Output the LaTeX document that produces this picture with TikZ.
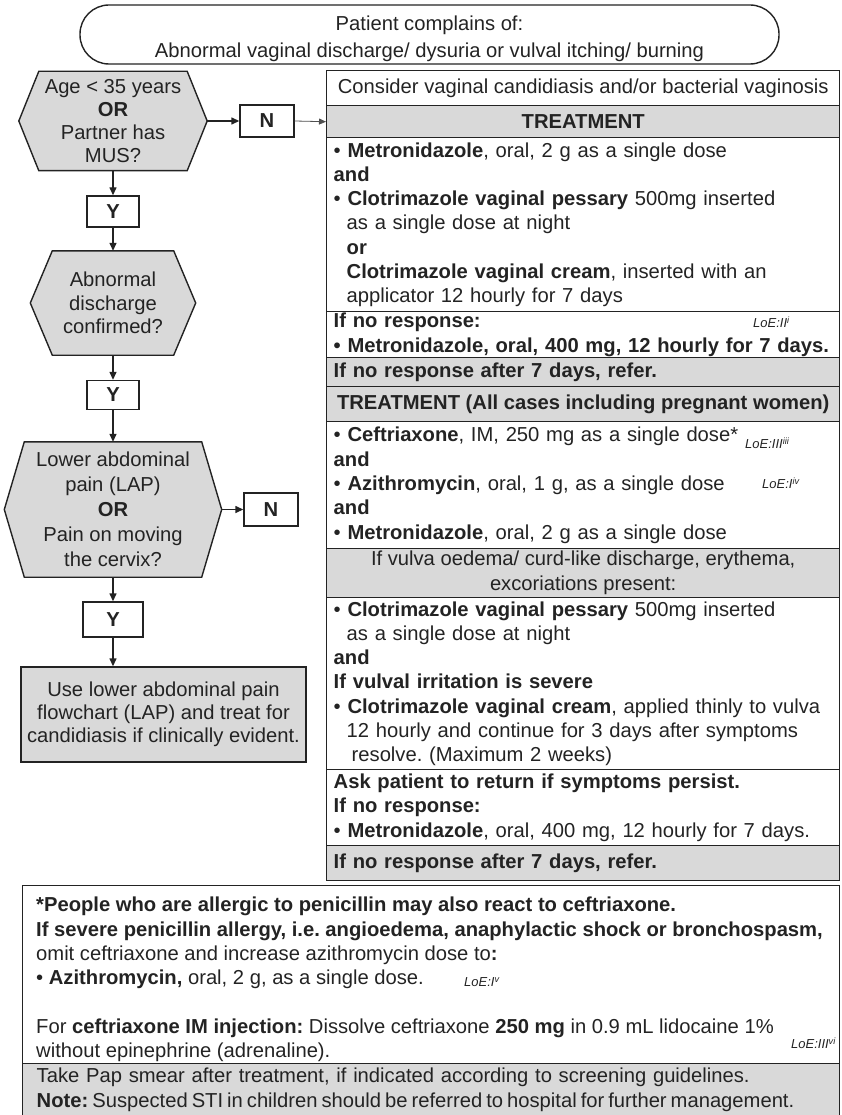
\documentclass[tikz,border=0pt]{standalone}
\usepackage{fontspec}
\setmainfont{Liberation Sans}
\usetikzlibrary{arrows.meta,backgrounds}
\definecolor{ink}{RGB}{35,35,35}
\definecolor{panelgrey}{RGB}{217,217,217}
\frenchspacing
% hexagonal decision outline drawn around a rectangular node: #1 node name, #2 corner inset
\newcommand\drawhex[2]{%
  \draw[frame,fill=panelgrey] ([xshift=#2pt]#1.north west) -- ([xshift=-#2pt]#1.north east)
    -- (#1.east) -- ([xshift=-#2pt]#1.south east) -- ([xshift=#2pt]#1.south west)
    -- (#1.west) -- cycle;}
\tikzset{
  txt/.style={font=\fontsize{20.2}{24.3}\selectfont, text=ink},
  frame/.style={draw=ink, line width=1.4pt},
  rowbox/.style={txt, frame, rectangle, anchor=north west, minimum width=513pt, inner xsep=0pt, inner ysep=0pt},
  leftrow/.style={rowbox, text width=499pt, inner xsep=7pt, align=left},
  shaded/.style={fill=panelgrey},
  hexnode/.style={txt, rectangle, inner sep=0pt, align=center, font=\fontsize{20.2}{23.3}\selectfont},
  answer/.style={txt, frame, rectangle, inner sep=0pt, font=\fontsize{20.2}{24}\selectfont\bfseries},
  flow/.style={draw=ink, line width=1.4pt, -{Triangle[length=8pt,width=7pt]}},
  thinflow/.style={draw=ink!80, line width=0.8pt, -{Triangle[length=7pt,width=6pt]}},
  loe/.style={font=\fontsize{13}{15}\selectfont\itshape, text=ink, inner sep=0pt},
}
\begin{document}
\begin{tikzpicture}[x=1pt,y=-1pt]
\useasboundingbox (0,0) rectangle (841,1115);

% start box
\node[frame, rounded corners=29pt, minimum width=699pt, minimum height=59pt, inner sep=0pt] (start) at (429.5,34.5) {};
\node[txt, align=center, inner sep=0pt] (startlabel) at (429.5,38.5)
  {Patient complains of:\\[2.7pt]Abnormal vaginal discharge/ dysuria or vulval itching/ burning};

% left column: decisions and answers
\node[hexnode, minimum width=188pt, minimum height=99pt] (q1) at (113,121)
  {Age < 35 years\\\textbf{OR}\\Partner has\\MUS?};
\node[answer, minimum width=54pt, minimum height=32pt] (n1) at (267,121) {N};
\node[answer, minimum width=52pt, minimum height=31pt] (y1) at (113,211.5) {Y};
\node[hexnode, minimum width=165pt, minimum height=104pt] (q2) at (113,303)
  {Abnormal\\discharge\\confirmed?};
\node[answer, minimum width=52pt, minimum height=29pt] (y2) at (113,395) {Y};
\node[hexnode, minimum width=217pt, minimum height=135pt, font=\fontsize{20.2}{25}\selectfont] (q3) at (113,509.5)
  {Lower abdominal\\pain (LAP)\\\textbf{OR}\\Pain on moving\\the cervix?};
\node[answer, minimum width=54pt, minimum height=33pt] (n2) at (271,509.5) {N};
\node[answer, minimum width=60pt, minimum height=35pt] (y3) at (113,619.5) {Y};
\node[txt, frame, shaded, rectangle, minimum width=285pt, minimum height=95pt, inner sep=0pt, align=center,
      font=\fontsize{20.2}{23}\selectfont] (endbox) at (163.5,714.5)
  {Use lower abdominal pain\\flowchart (LAP) and treat for\\candidiasis if clinically evident.};

\begin{scope}[on background layer]
  \drawhex{q1}{20}
  \drawhex{q2}{22}
  \drawhex{q3}{20}
\end{scope}

% right column: treatment table
\node[rowbox, minimum height=35pt] (r0) at (326,70) {Consider vaginal candidiasis and/or bacterial vaginosis};
\node[rowbox, shaded, minimum height=32pt] (r1) at (326,105) {\textbf{TREATMENT}};
\node[leftrow, minimum height=174pt] (r2) at (326,137)
  {• \textbf{Metronidazole}, oral, 2 g as a single dose\\
   \textbf{and}\\
   • \textbf{Clotrimazole vaginal pessary} 500mg inserted\\
   \hspace*{13pt}as a single dose at night\\
   \hspace*{13pt}\textbf{or}\\
   \hspace*{13pt}\textbf{Clotrimazole vaginal cream}, inserted with an\\
   \hspace*{13pt}applicator 12 hourly for 7 days};
\node[leftrow, minimum height=46pt] (r3) at (326,311)
  {\textbf{If no response:}\\
   \textbf{• Metronidazole, oral, 400 mg, 12 hourly for 7 days.}};
\node[leftrow, shaded, minimum height=29pt] (r4) at (326,357) {\textbf{If no response after 7 days, refer.}};
\node[rowbox, shaded, minimum height=35pt] (r5) at (326,386) {\textbf{TREATMENT (All cases including pregnant women)}};
\node[leftrow, minimum height=127pt] (r6) at (326,421)
  {• \textbf{Ceftriaxone}, IM, 250 mg as a single dose*\\
   \textbf{and}\\
   • \textbf{Azithromycin}, oral, 1 g, as a single dose\\
   \textbf{and}\\
   • \textbf{Metronidazole}, oral, 2 g as a single dose};
\node[rowbox, shaded, minimum height=49pt, align=center, font=\fontsize{20.2}{25}\selectfont] (r7) at (326,548)
  {If vulva oedema/ curd-like discharge, erythema,\\excoriations present:};
\node[leftrow, minimum height=172pt] (r8) at (326,597)
  {• \textbf{Clotrimazole vaginal pessary} 500mg inserted\\
   \hspace*{13pt}as a single dose at night\\
   \textbf{and}\\
   \textbf{If vulval irritation is severe}\\
   • \textbf{Clotrimazole vaginal cream}, applied thinly to vulva\\
   \hspace*{13pt}12 hourly and continue for 3 days after symptoms\\
   \hspace*{18pt}resolve. (Maximum 2 weeks)};
\node[leftrow, minimum height=76pt] (r9) at (326,769)
  {\textbf{Ask patient to return if symptoms persist.}\\
   \textbf{If no response:}\\
   • \textbf{Metronidazole}, oral, 400 mg, 12 hourly for 7 days.};
\node[leftrow, shaded, minimum height=35pt] (r10) at (326,845) {\textbf{If no response after 7 days, refer.}};

% levels of evidence
\node[loe, anchor=west] (e1) at (753,322) {LoE:II\textsuperscript{i}};
\node[loe, anchor=west] (e2) at (745,443) {LoE:III\textsuperscript{iii}};
\node[loe, anchor=west] (e3) at (762,483) {LoE:I\textsuperscript{iv}};

% footnote box
\node[frame, rectangle, anchor=north west, minimum width=817pt, minimum height=178pt, inner sep=0pt] (foot) at (22,885) {};
\node[txt, anchor=north west, align=left, inner sep=0pt] (foottext) at (36,897)
  {\textbf{*People who are allergic to penicillin may also react to ceftriaxone.}\\
   \textbf{If severe penicillin allergy, i.e. angioedema, anaphylactic shock or bronchospasm,}\\
   omit ceftriaxone and increase azithromycin dose to\textbf{:}\\
   • \textbf{Azithromycin,} oral, 2 g, as a single dose.\\
   \mbox{}\\
   For \textbf{ceftriaxone IM injection:} Dissolve ceftriaxone \textbf{250 mg} in 0.9 mL lidocaine 1\%\\
   without epinephrine (adrenaline).};
\node[loe, anchor=west] (e4) at (464,982) {LoE:I\textsuperscript{v}};
\node[loe, anchor=east] (e5) at (836,1043) {LoE:III\textsuperscript{vi}};
\node[leftrow, shaded, minimum width=817pt, text width=789pt, inner xsep=14pt, minimum height=52pt] (closing) at (22,1063)
  {Take Pap smear after treatment, if indicated according to screening guidelines.\\
   \mbox{\spaceskip=4pt plus 1pt\relax\textbf{Note:} Suspected STI in children should be referred to hospital for further management.}};

% connectors
\draw[flow] (q1.east) -- (n1.west);
\draw[thinflow] (n1.east) -- (r1.west);
\draw[flow] (q1.south) -- (y1.north);
\draw[flow] (y1.south) -- (q2.north);
\draw[flow] (q2.south) -- (y2.north);
\draw[flow] (y2.south) -- (q3.north);
\draw[flow] (q3.east) -- (n2.west);
\draw[flow] (q3.south) -- (y3.north);
\draw[flow] (y3.south) -- (y3.south |- endbox.north);
\end{tikzpicture}
\end{document}
